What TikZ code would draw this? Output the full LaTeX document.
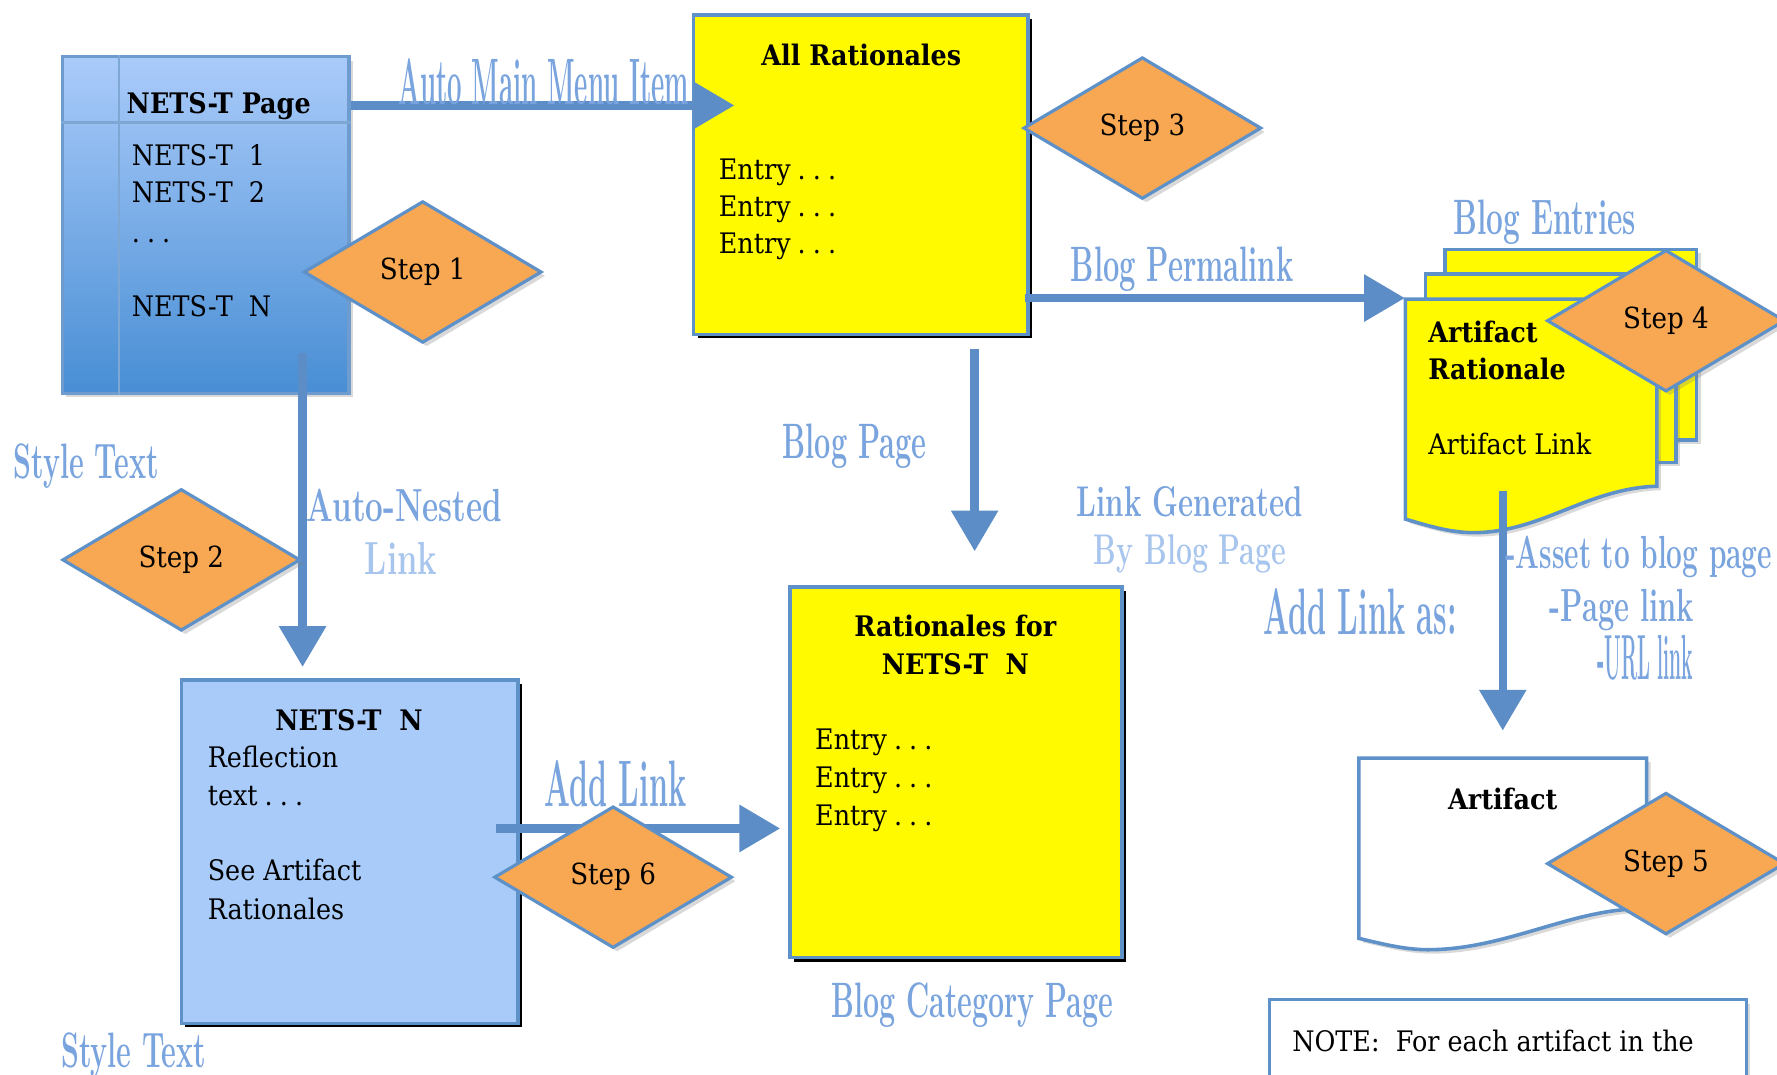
\documentclass[tikz,border=0pt]{standalone}
\usepackage{fontspec}
\usepackage{graphicx}
\usepackage{tikz}
\usetikzlibrary{shapes.geometric, arrows.meta, shadows, positioning, calc, fit}
\newfontfamily\bodyfont[FakeStretch=0.9]{DejaVu Serif}
\definecolor{lineblue}{RGB}{95,145,201}
\definecolor{arrowblue}{RGB}{92,141,199}
\definecolor{labelblue}{RGB}{122,164,222}
\definecolor{paleblue}{RGB}{168,197,238}
\definecolor{notepaper}{RGB}{255,250,0}
\definecolor{pagetop}{RGB}{170,203,250}
\definecolor{pagebottom}{RGB}{72,142,212}
\definecolor{reflectblue}{RGB}{168,203,250}
\definecolor{steporange}{RGB}{248,167,82}
\newcommand{\squeeze}[2]{\scalebox{#1}[1]{#2}}
\newcommand{\lblsize}[1]{\rmfamily\bfseries\fontsize{#1}{#1}\selectfont}
\newcommand{\dotsep}{\hspace{0.25em}.\hspace{0.25em}.\hspace{0.25em}.}

\begin{document}
\begin{tikzpicture}[x=0.02cm, y=-0.02cm,
  soft shadow/.style={drop shadow={opacity=0.3, shadow xshift=0.07cm, shadow yshift=-0.07cm}},
  hard shadow/.style={drop shadow={fill=black, opacity=1, shadow xshift=0.07cm, shadow yshift=-0.07cm}},
  yellow box/.style={draw=lineblue, line width=1.8pt, fill=notepaper, inner sep=0pt, hard shadow},
  blue box/.style={draw=lineblue, line width=1.8pt, fill=reflectblue, inner sep=0pt, hard shadow},
  paper/.style={draw=lineblue, line width=1.8pt, fill=notepaper, soft shadow},
  step diamond/.style={diamond, draw=lineblue, line width=1.6pt, fill=steporange, minimum width=4.2cm, minimum height=2.5cm, inner sep=0pt, font=\bodyfont\fontsize{14.6}{17}\selectfont, soft shadow},
  flow/.style={draw=arrowblue, line width=4.2pt, -{Triangle[length=0.72cm, width=0.8cm]}},
  box text/.style={font=\bodyfont\fontsize{14.2}{17}\selectfont, inner sep=0pt, anchor=base west},
  box title/.style={font=\bodyfont\bfseries\fontsize{14.2}{17}\selectfont, inner sep=0pt, anchor=base},
  blue tag/.style={text=labelblue, inner sep=0pt, anchor=base},
  pale tag/.style={blue tag, text=paleblue}]
\useasboundingbox (0,0) rectangle (1568,948);
\clip (0,0) rectangle (1568,948);

\node[draw=lineblue!90, line width=1.6pt, top color=pagetop, bottom color=pagebottom, minimum width=5.06cm, minimum height=5.94cm, inner sep=0pt, soft shadow] (netspage) at (181.5,198.5) {};
\coordinate (H) at (105,108);
\draw[lineblue!80, line width=1.3pt] (netspage.west |- H) -- (netspage.east |- H);
\draw[lineblue!80, line width=1.3pt] (netspage.north -| H) -- (netspage.south -| H);

\node[yellow box, minimum width=5.9cm, minimum height=5.64cm] (allrat) at (759.5,154) {};
\node[yellow box, minimum width=5.86cm, minimum height=6.54cm] (ratN) at (843.5,681.5) {};
\node[blue box, minimum width=5.94cm, minimum height=6.06cm] (netsN) at (308.5,751.5) {};
\node[draw=lineblue, line width=1.6pt, fill=white, minimum width=8.42cm, minimum height=2.6cm, soft shadow] (note) at (1330.5,947) {};

\draw[paper] (1275,220) rectangle (1497,388);
\draw[paper] (1258,242) rectangle (1479,408);
\draw[paper] (1240,264) -- (1462,264) -- (1462,429) .. controls (1400,431) and (1360,470) .. (1300,470) .. controls (1280,470) and (1260,464) .. (1240,458) -- cycle;
\draw[paper, fill=white] (1199,669) -- (1453,669) -- (1453,802) .. controls (1390,800) and (1330,838) .. (1260,838) .. controls (1240,838) and (1220,833) .. (1199,828) -- cycle;
\node[fit={(1240,264) (1462,470)}, inner sep=0pt] (artrat) {};
\node[fit={(1199,669) (1453,838)}, inner sep=0pt] (artdoc) {};

\coordinate (M) at (648,93);
\draw[flow] (netspage.east |- M) -- (M);
\coordinate (P) at (artrat.west |- 0,263);
\draw[flow] ($(allrat.east |- P)+(-4,0)$) -- (P);
\coordinate (B) at (860,0);
\draw[flow] ($(allrat.south -| B)+(0,11)$) -- ($(ratN.north -| B)+(0,-30)$);
\coordinate (N) at (267,0);
\draw[flow] ($(netspage.south -| N)+(0,-37)$) -- ($(netsN.north -| N)+(0,-10)$);
\coordinate (L) at (0,731);
\draw[flow] ($(netsN.east |- L)+(-21,0)$) -- ($(ratN.west |- L)+(-7,0)$);
\coordinate (A) at (1326,433);
\draw[flow] (A) -- ($(artdoc.north -| A)+(0,-24)$);

\node[step diamond] (step1) at (373,240) {Step 1};
\node[step diamond] (step2) at (160,494) {Step 2};
\node[step diamond] (step3) at (1008,113) {Step 3};
\node[step diamond] (step4) at (1470,283) {Step 4};
\node[step diamond] (step5) at (1470,762) {Step 5};
\node[step diamond] (step6) at (541,774) {Step 6};

\node[box title] (pagetitle) at (193,100) {NETS-T Page};
\node[box text] (nets1) at (116,146) {NETS-T~~1};
\node[box text] (nets2) at (116,179) {NETS-T~~2};
\node[box text] (netsdots) at (116,214) {.\hspace{0.25em}.\hspace{0.25em}.};
\node[box text] (netsn) at (116,279) {NETS-T~~N};

\node[box title] (alltitle) at (760,58) {All Rationales};
\foreach \y [count=\i] in {158,191,224}
  \node[box text] (allentry\i) at (634,\y) {Entry\dotsep};

\node[box title] (rattitle) at (843,562) {Rationales for};
\node[box title] (ratsub) at (843,595) {NETS-T~~N};
\foreach \y [count=\i] in {661,695,728}
  \node[box text] (ratentry\i) at (719,\y) {Entry\dotsep};

\node[box title] (reftitle) at (308,645) {NETS-T~~N};
\node[box text] (ref1) at (183,677) {Reflection};
\node[box text] (ref2) at (183,711) {text\dotsep};
\node[box text] (ref3) at (183,777) {See Artifact};
\node[box text] (ref4) at (183,811) {Rationales};

\node[box title, anchor=base west] (arttitle) at (1260,302) {Artifact};
\node[box title, anchor=base west] (artsub) at (1260,335) {Rationale};
\node[box text] (artlink) at (1260,401) {Artifact Link};
\node[box title] (doctitle) at (1326,714) {Artifact};
\node[box text] (notetext) at (1140,928) {NOTE:~ For each artifact in the};

\node[blue tag, font=\lblsize{33}] (menutag) at (480,92) {\squeeze{0.393}{Auto Main Menu Item}};
\node[blue tag, font=\lblsize{25}] (permatag) at (1043,248) {\squeeze{0.584}{Blog Permalink}};
\node[blue tag, font=\lblsize{25}] (entriestag) at (1363,207) {\squeeze{0.60}{Blog Entries}};
\node[blue tag, font=\lblsize{25}] (pagetag) at (754,405) {\squeeze{0.58}{Blog Page}};
\node[blue tag, font=\lblsize{25}] (cattag) at (858,898) {\squeeze{0.575}{Blog Category Page}};
\node[blue tag, font=\lblsize{25}] (style1) at (76,422) {\squeeze{0.576}{Style Text}};
\node[blue tag, font=\lblsize{25}] (style2) at (118,942) {\squeeze{0.576}{Style Text}};
\node[blue tag, font=\lblsize{21.6}] (gentag) at (1050,456) {\squeeze{0.683}{Link Generated}};
\node[pale tag, font=\lblsize{21.6}] (bytag) at (1050,498) {\squeeze{0.662}{By Blog Page}};
\node[blue tag, font=\lblsize{23.3}] (nestedtag) at (357,460) {\squeeze{0.676}{Auto-Nested}};
\node[pale tag, font=\lblsize{23.3}] (linktag) at (354,507) {\squeeze{0.707}{Link}};
\node[blue tag, font=\lblsize{33}] (addtag) at (543,712) {\squeeze{0.464}{Add Link}};
\node[blue tag, font=\lblsize{33}] (astag) at (1200,560) {\squeeze{0.466}{Add Link as:}};
\node[blue tag, font=\lblsize{23.3}, anchor=base west] (assettag) at (1328,502) {\squeeze{0.605}{-Asset to blog page}};
\node[blue tag, font=\lblsize{23.3}] (pagelinktag) at (1431,548) {\squeeze{0.626}{-Page link}};
\node[blue tag, font=\lblsize{32}] (urltag) at (1452,600) {\squeeze{0.302}{-URL link}};
\end{tikzpicture}
\end{document}
